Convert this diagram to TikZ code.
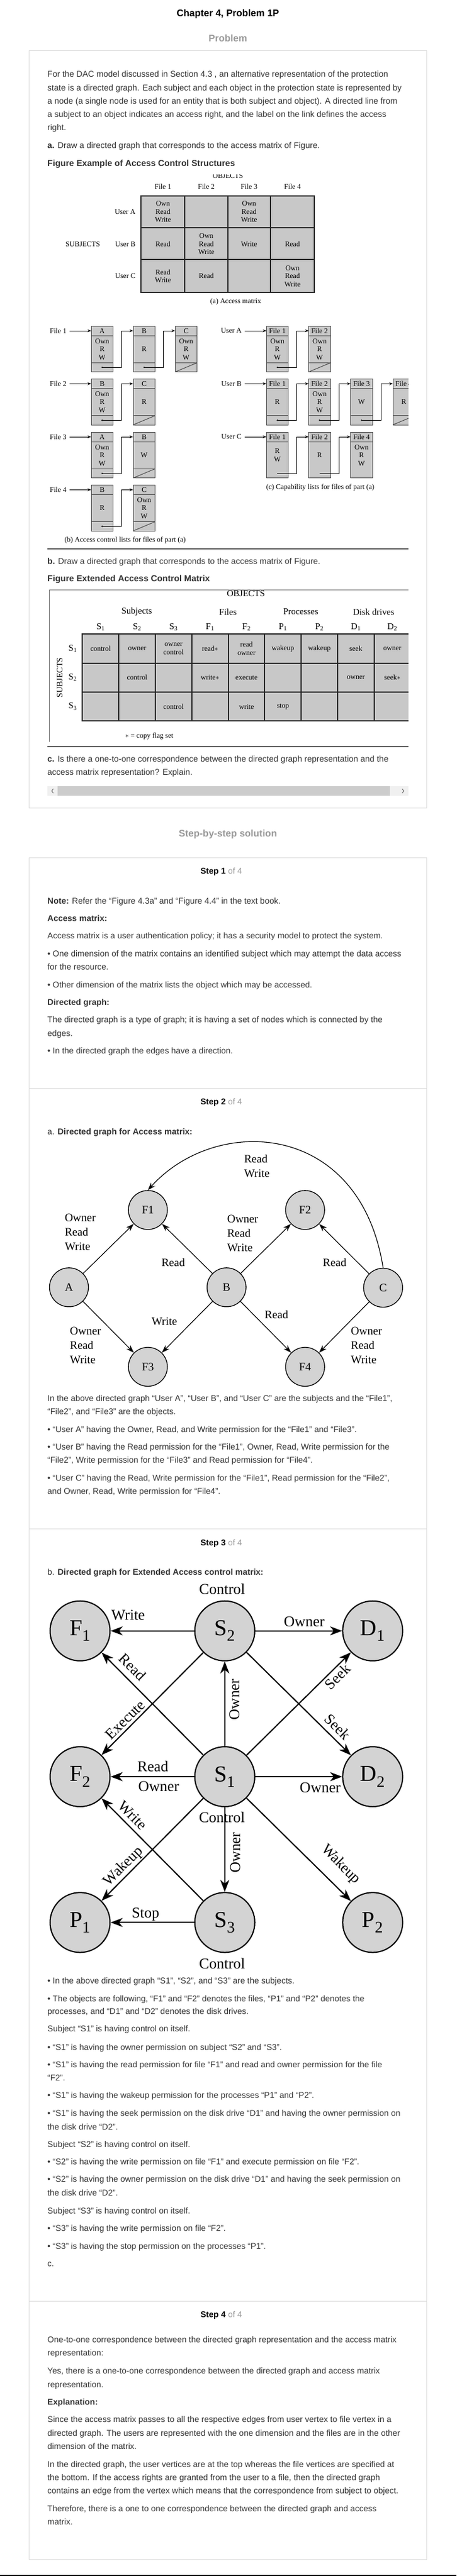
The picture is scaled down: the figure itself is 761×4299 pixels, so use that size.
\documentclass[tikz,border=0pt]{standalone}
\usepackage{fontspec}
\setmainfont{Liberation Sans}
\newfontfamily\figfont{Liberation Serif}
\usetikzlibrary{arrows.meta}
\definecolor{txtcol}{HTML}{333333}
\definecolor{headgray}{HTML}{9A9A9A}
\definecolor{framegray}{HTML}{DDDDDD}
\definecolor{cellgray}{HTML}{C8C8C8}
\definecolor{nodegray}{HTML}{D3D3D3}
% one line of body text, placed by its baseline
\newcommand{\tline}[3]{\node[txt] (#1) at (79,#2) {#3};}
\newcommand{\stephead}[3]{\node[ctxt,font=\fontsize{14}{17}\selectfont] (#1) at (369,#2) {\textbf{Step #3} \textcolor{headgray}{of 4}};}
% list cell: [pointer line] name, left, top, header, body
\newcommand{\listbox}[6][1]{
	\fill[cellgray] (#3,#4) rectangle ++(36.5,76.7);
	\draw[boxline] (#3,#4) rectangle ++(36.5,76.7);
	\draw[boxline] (#3,#4+16) -- ++(36.5,0);
	\ifnum#1=1 \draw[boxline] (#3,#4+61.4) -- ++(36.5,0);\fi
	\node[fig] (#2) at (#3+18.25,#4+8.3) {#5};
	\node[fig,align=center] (#2b) at (#3+18.25,#4+38.7) {#6};
	\coordinate (#2in) at (#3,#4+8);
	\coordinate (#2out) at (#3+18.25,#4+69);
}
\newcommand{\nextptr}[2]{
	\fill (#1out) circle (1.2pt);
	\draw[ptr] (#1out) -- ++(32.25,0) |- (#2in);
}
\newcommand{\nilptr}[2]{\draw[boxline] (#1,#2+76.7) -- (#1+36.5,#2+61.4);}

\begin{document}
\begin{tikzpicture}[x=1pt,y=-1pt,
	txt/.style={anchor=base west,inner sep=0pt,text=txtcol,font=\fontsize{14}{22}\selectfont},
	ctxt/.style={anchor=base,inner sep=0pt},
	boxline/.style={draw=black!70,line width=1pt},
	ptr/.style={line width=0.9pt,-{Stealth[length=6pt,width=4.5pt]}},
	fig/.style={font=\figfont\fontsize{12}{13.5}\selectfont,inner sep=1pt},
	figs/.style={font=\figfont\fontsize{12}{14}\selectfont,inner sep=1pt,align=center},
	figl/.style={font=\figfont\fontsize{15}{15}\selectfont,inner sep=1pt},
	grid/.style={line width=2pt,black!85},
	gnode/.style={circle,draw,line width=1.3pt,fill=nodegray,minimum size=65pt,inner sep=0pt,font=\figfont\fontsize{19}{19}\selectfont},
	gedge/.style={line width=1.2pt,-{Stealth[length=13pt,width=9pt]}},
	glab/.style={font=\figfont\fontsize{19}{24}\selectfont,align=left,inner sep=0pt},
	bnode/.style={circle,draw,line width=2pt,fill=nodegray,minimum size=100pt,inner sep=0pt,font=\figfont\fontsize{38}{38}\selectfont},
	bedge/.style={line width=2pt,-{Stealth[length=20pt,width=15pt,inset=6pt]}},
	blab/.style={font=\figfont\fontsize{25}{25}\selectfont,inner sep=0pt}]

	\useasboundingbox (0,0) rectangle (761,4299);
	\fill[white] (0,0) rectangle (761,4299);
	\fill[black] (0,4297) rectangle (761,4299);

	% headings and frames
	\node[ctxt,font=\bfseries\fontsize{16}{19}\selectfont] (title) at (380,27.5) {Chapter 4, Problem 1P};
	\node[ctxt,text=headgray,font=\bfseries\fontsize{16}{19}\selectfont] (probhead) at (380,69) {Problem};
	\node[ctxt,text=headgray,font=\bfseries\fontsize{16}{19}\selectfont] (solhead) at (380,1396) {Step-by-step solution};
	\draw[framegray,line width=1pt] (48.5,84.3) rectangle (711.5,1348.3);
	\draw[framegray,line width=1pt] (48.5,1431.7) rectangle (711.5,4271);
	\foreach \y in {1816,2551,3840.7}
		\draw[framegray,line width=1pt] (48.5,\y) -- (711.5,\y);

	% problem
	\tline{pr1}{128.3}{For the DAC model discussed in Section 4.3 , an alternative representation of the protection}
	\tline{pr2}{151}{state is a directed graph. Each subject and each object in the protection state is represented by}
	\tline{pr3}{173.3}{a node (a single node is used for an entity that is both subject and object). A directed line from}
	\tline{pr4}{195.3}{a subject to an object indicates an access right, and the label on the link defines the access}
	\tline{pr5}{217.7}{right.}
	\tline{pra}{247.3}{\textbf{a.} Draw a directed graph that corresponds to the access matrix of Figure.}
	\node[txt,font=\bfseries\fontsize{14.5}{22}\selectfont] (prfa) at (79,277.3) {Figure Example of Access Control Structures};

	\begin{scope}
	\clip (79,291) rectangle (681,916);
	% (a) access matrix
	\node[fig] (objects) at (380,294) {OBJECTS};
	\foreach \c [count=\i] in {271.7,344,415.3,487.7}
		\node[fig] (fh\i) at (\c,311.7) {File \i};
	\fill[cellgray] (235,326.7) rectangle (524.3,488.3);
	\foreach \xx in {308.3,379.6,451}
		\draw[grid] (\xx,326.7) -- (\xx,488.3);
	\foreach \yy in {380,433.3}
		\draw[grid] (235,\yy) -- (524.3,\yy);
	\draw[grid] (235,326.7) rectangle (524.3,488.3);
	\node[fig,anchor=east] (ua) at (227,353.3) {User A};
	\node[fig,anchor=east] (ub) at (227,407.7) {User B};
	\node[fig,anchor=east] (uc) at (227,460.8) {User C};
	\node[fig] (subjects) at (138,407.7) {SUBJECTS};
	\node[fig,align=center] (m11) at (271.7,353.3) {Own\\Read\\Write};
	\node[fig,align=center] (m13) at (415.3,353.3) {Own\\Read\\Write};
	\node[fig] (m21) at (271.7,407.7) {Read};
	\node[fig,align=center] (m22) at (344,407.3) {Own\\Read\\Write};
	\node[fig] (m23) at (415.3,407.7) {Write};
	\node[fig] (m24) at (487.7,407.7) {Read};
	\node[fig,align=center] (m31) at (271.7,460.8) {Read\\Write};
	\node[fig] (m32) at (344,460.8) {Read};
	\node[fig,align=center] (m34) at (487.7,461) {Own\\Read\\Write};
	\node[fig] (capa) at (393,503.3) {(a) Access matrix};

	% (b) access control lists
	\listbox{a11}{152}{544}{A}{Own\\R\\W}
	\listbox{a12}{222}{544}{B}{R}
	\listbox{a13}{292}{544}{C}{Own\\R\\W}
	\nextptr{a11}{a12} \nextptr{a12}{a13} \nilptr{292}{544}
	\listbox{a21}{152}{632.3}{B}{Own\\R\\W}
	\listbox{a22}{222}{632.3}{C}{R}
	\nextptr{a21}{a22} \nilptr{222}{632.3}
	\listbox{a31}{152}{721}{A}{Own\\R\\W}
	\listbox{a32}{222}{721}{B}{W}
	\nextptr{a31}{a32} \nilptr{222}{721}
	\listbox{a41}{152}{809.3}{B}{R}
	\listbox{a42}{222}{809.3}{C}{Own\\R\\W}
	\nextptr{a41}{a42} \nilptr{222}{809.3}
	\foreach \n/\y in {1/552,2/640.3,3/729,4/817.3}
		\node[fig,anchor=east] (lf\n) at (112,\y) {File \n};
	\draw[ptr] ([xshift=4pt]lf1.east) -- (a11in);
	\draw[ptr] ([xshift=4pt]lf2.east) -- (a21in);
	\draw[ptr] ([xshift=4pt]lf3.east) -- (a31in);
	\draw[ptr] ([xshift=4pt]lf4.east) -- (a41in);
	\node[fig] (capb) at (208.7,901.7) {(b) Access control lists for files of part (a)};

	% (c) capability lists
	\listbox{c11}{444.2}{544}{File 1}{Own\\R\\W}
	\listbox{c12}{514.6}{544}{File 2}{Own\\R\\W}
	\nextptr{c11}{c12} \nilptr{514.6}{544}
	\listbox{c21}{444.2}{632.3}{File 1}{R}
	\listbox{c22}{514.6}{632.3}{File 2}{Own\\R\\W}
	\listbox{c23}{584.6}{632.3}{File 3}{W}
	\listbox{c24}{655}{632.3}{File 4}{R}
	\nextptr{c21}{c22} \nextptr{c22}{c23} \nextptr{c23}{c24} \nilptr{655}{632.3}
	\listbox[0]{c31}{444.2}{721}{File 1}{R\\W}
	\listbox[0]{c32}{514.6}{721}{File 2}{R}
	\listbox[0]{c33}{584.6}{721}{File 4}{Own\\R\\W}
	\draw[ptr] (c31out) -- ++(32.25,0) |- (c32in);
	\draw[ptr] (c32out) -- ++(32.25,0) |- (c33in);
	\foreach \n/\y in {A/552,B/640.3,C/729}
		\node[fig,anchor=east] (lu\n) at (404,\y) {User \n};
	\draw[ptr] ([xshift=4pt]luA.east) -- (c11in);
	\draw[ptr] ([xshift=4pt]luB.east) -- (c21in);
	\draw[ptr] ([xshift=4pt]luC.east) -- (c31in);
	\node[fig] (capc) at (534,814) {(c) Capability lists for files of part (a)};
	\end{scope}
	\draw[black!65,line width=2pt] (79,916) -- (681,916);

	\tline{prb}{941.7}{\textbf{b.} Draw a directed graph that corresponds to the access matrix of Figure.}
	\node[txt,font=\bfseries\fontsize{14.5}{22}\selectfont] (prfb) at (79,970.7) {Figure Extended Access Control Matrix};

	% extended access control matrix
	\begin{scope}
	\clip (79,984) rectangle (681,1246);
	\draw[black!55,line width=0.8pt] (681,984) -- (82.5,984) -- (82.5,1238.3);
	\node[figl] (xobj) at (410,990.5) {OBJECTS};
	\node[figl] (gsub) at (228,1021) {Subjects};
	\node[figl] (gfil) at (380,1021) {Files};
	\node[figl] (gpro) at (501.5,1021) {Processes};
	\node[figl] (gdsk) at (623,1021) {Disk drives};
	\foreach \lab [count=\i] in {S\textsubscript{1},S\textsubscript{2},S\textsubscript{3},F\textsubscript{1},F\textsubscript{2},P\textsubscript{1},P\textsubscript{2},D\textsubscript{1},D\textsubscript{2}}
		\node[figl] (col\i) at ({137.4+60.8*(\i-0.5)},1046.7) {\lab};
	\foreach \lab [count=\j] in {S\textsubscript{1},S\textsubscript{2},S\textsubscript{3}}
		\node[figl] (row\j) at (121.4,{1058.3+48.33*(\j-0.5)}) {\lab};
	\node[figl,rotate=90,font=\figfont\fontsize{14}{14}\selectfont] (xsubj) at (99.5,1131) {SUBJECTS};
	\fill[cellgray] (137.4,1058.3) rectangle (684.6,1203.3);
	\foreach \i in {0,...,9}
		\draw[grid] ({137.4+60.8*\i},1058.3) -- ({137.4+60.8*\i},1203.3);
	\foreach \j in {0,...,3}
		\draw[grid] (136.4,{1058.3+48.33*\j}) -- (684.6,{1058.3+48.33*\j});
	\foreach \c/\r/\t in {1/1/control,2/1/owner,3/1/{owner\\control},4/1/{read$\ast$},5/1/{read\\owner},6/1/wakeup,7/1/wakeup,8/1/seek,9/1/owner,
		2/2/control,4/2/{write$\ast$},5/2/execute,8/2/owner,9/2/{seek$\ast$},
		3/3/control,5/3/write,6/3/stop}
		\node[figs] (e\c\r) at ({137.4+60.8*(\c-0.5)},{1058.3+48.33*(\r-0.5)}) {\t};
	\node[fig] (flag) at (249,1228.3) {$\ast$ = copy flag set};
	\end{scope}
	\draw[black!65,line width=2pt] (79,1246) -- (681,1246);

	\tline{prc1}{1271}{\textbf{c.} Is there a one-to-one correspondence between the directed graph representation and the}
	\tline{prc2}{1293.3}{access matrix representation? Explain.}
	% scroll bar
	\fill[black!6] (79,1312.3) rectangle (681,1327.7);
	\fill[black!20] (96,1312.3) rectangle (649.5,1327.7);
	\draw[black!60,line width=1pt] (88.8,1316.5) -- (86.3,1320) -- (88.8,1323.5);
	\draw[black!60,line width=1pt] (670.7,1316.5) -- (673.2,1320) -- (670.7,1323.5);

	% step 1
	\stephead{h1}{1458.3}{1}
	\tline{s1a}{1508.3}{\textbf{Note:} Refer the “Figure 4.3a” and “Figure 4.4” in the text book.}
	\tline{s1b}{1537.3}{\textbf{Access matrix:}}
	\tline{s1c}{1566}{Access matrix is a user authentication policy; it has a security model to protect the system.}
	\tline{s1d}{1596.7}{• One dimension of the matrix contains an identified subject which may attempt the data access}
	\tline{s1e}{1618.3}{for the resource.}
	\tline{s1f}{1648.3}{• Other dimension of the matrix lists the object which may be accessed.}
	\tline{s1g}{1677.3}{\textbf{Directed graph:}}
	\tline{s1h}{1706}{The directed graph is a type of graph; it is having a set of nodes which is connected by the}
	\tline{s1i}{1729}{edges.}
	\tline{s1j}{1758.3}{• In the directed graph the edges have a direction.}

	% step 2
	\stephead{h2}{1843.3}{2}
	\tline{s2a}{1893.3}{a. \textbf{Directed graph for Access matrix:}}
	\node[gnode] (A) at (115,2148.3) {A};
	\node[gnode] (B) at (377.7,2148.3) {B};
	\node[gnode] (C) at (638.8,2149) {C};
	\node[gnode] (F1) at (246.6,2019.3) {F1};
	\node[gnode] (F2) at (508.7,2019.3) {F2};
	\node[gnode] (F3) at (246.6,2281) {F3};
	\node[gnode] (F4) at (508.7,2281) {F4};
	\draw[gedge] (A) -- (F1);
	\draw[gedge] (A) -- (F3);
	\draw[gedge] (B) -- (F1);
	\draw[gedge] (B) -- (F2);
	\draw[gedge] (B) -- (F3);
	\draw[gedge] (B) -- (F4);
	\draw[gedge] (C) -- (F2);
	\draw[gedge] (C) -- (F4);
	\draw[gedge] (C.north) .. controls (600,1870) and (360,1860) .. (F1.north);
	\node[glab,anchor=west] (lAF1) at (107.8,2056) {Owner\\Read\\Write};
	\node[glab,anchor=west] (lBF2) at (378.6,2058.5) {Owner\\Read\\Write};
	\node[glab,anchor=west] (lAF3) at (116.5,2245.5) {Owner\\Read\\Write};
	\node[glab,anchor=west] (lCF4) at (585,2245) {Owner\\Read\\Write};
	\node[glab,anchor=west] (lCF1) at (406.8,1946.3) {Read\\Write};
	\node[glab] (lBF1) at (288.8,2106.7) {Read};
	\node[glab] (lCF2) at (558,2106.7) {Read};
	\node[glab] (lBF3) at (274,2205) {Write};
	\node[glab] (lBF4) at (461,2194) {Read};
	\tline{s2b}{2338.3}{In the above directed graph “User A”, “User B”, and “User C” are the subjects and the “File1”,}
	\tline{s2c}{2360}{“File2”, and “File3” are the objects.}
	\tline{s2d}{2390}{• “User A” having the Owner, Read, and Write permission for the “File1” and “File3”.}
	\tline{s2e}{2419.3}{• “User B” having the Read permission for the “File1”, Owner, Read, Write permission for the}
	\tline{s2f}{2441.7}{“File2”, Write permission for the “File3” and Read permission for “File4”.}
	\tline{s2g}{2471}{• “User C” having the Read, Write permission for the “File1”, Read permission for the “File2”,}
	\tline{s2h}{2493.3}{and Owner, Read, Write permission for “File4”.}

	% step 3
	\stephead{h3}{2579}{3}
	\tline{s3a}{2628.3}{b. \textbf{Directed graph for Extended Access control matrix:}}
	\node[bnode] (bF1) at (133.5,2721.7) {F\textsubscript{1}};
	\node[bnode] (bS2) at (374.8,2721.7) {S\textsubscript{2}};
	\node[bnode] (bD1) at (621.4,2721.7) {D\textsubscript{1}};
	\node[bnode] (bF2) at (133.5,2965) {F\textsubscript{2}};
	\node[bnode] (bS1) at (374.8,2965) {S\textsubscript{1}};
	\node[bnode] (bD2) at (621.4,2965) {D\textsubscript{2}};
	\node[bnode] (bP1) at (133.5,3208.3) {P\textsubscript{1}};
	\node[bnode] (bS3) at (374.8,3208.3) {S\textsubscript{3}};
	\node[bnode] (bP2) at (621.4,3208.3) {P\textsubscript{2}};
	\draw[bedge] (bS2) -- (bF1);
	\draw[bedge] (bS2) -- (bD1);
	\draw[bedge] (bS2) -- (bF2);
	\draw[bedge] (bS2) -- (bD2);
	\draw[bedge] (bS1) -- (bF1);
	\draw[bedge] (bS1) -- (bS2);
	\draw[bedge] (bS1) -- (bD1);
	\draw[bedge] (bS1) -- (bF2);
	\draw[bedge] (bS1) -- (bD2);
	\draw[bedge] (bS1) -- (bS3);
	\draw[bedge] (bS1) -- (bP1);
	\draw[bedge] (bS1) -- (bP2);
	\draw[bedge] (bS3) -- (bF2);
	\draw[bedge] (bS3) -- (bP1);
	\node[blab] (kS2) at (370.4,2651.7) {Control};
	\node[blab] (kS2F1) at (213.6,2695) {Write};
	\node[blab] (kS2D1) at (507.3,2706.7) {Owner};
	\node[blab,rotate=-45] (kS1F1) at (221,2781.7) {Read};
	\node[blab,rotate=90] (kS1S2) at (390.8,2836) {Owner};
	\node[blab,rotate=45] (kS1D1) at (563,2798) {Seek};
	\node[blab,rotate=45] (kS2F2) at (208.7,2870) {Execute};
	\node[blab,rotate=-45] (kS2D2) at (563,2881.7) {Seek};
	\node[blab] (kS1F2a) at (254.9,2948.3) {Read};
	\node[blab] (kS1F2b) at (264.6,2981.7) {Owner};
	\node[blab] (kS1D2) at (534,2983.3) {Owner};
	\node[blab] (kS1) at (370,3033.3) {Control};
	\node[blab,rotate=-45] (kS3F2) at (220.9,3030) {Write};
	\node[blab,rotate=90] (kS1S3) at (392.2,3091.7) {Owner};
	\node[blab,rotate=45] (kS1P1) at (206.3,3115) {Wakeup};
	\node[blab,rotate=-45] (kS1P2) at (568,3111.7) {Wakeup};
	\node[blab] (kS3P1) at (242.7,3195) {Stop};
	\node[blab] (kS3) at (370.4,3277.3) {Control};
	\tline{s3b}{3310}{• In the above directed graph “S1”, “S2”, and “S3” are the subjects.}
	\tline{s3c}{3340}{• The objects are following, “F1” and “F2” denotes the files, “P1” and “P2” denotes the}
	\tline{s3d}{3361.7}{processes, and “D1” and “D2” denotes the disk drives.}
	\tline{s3e}{3390.7}{Subject “S1” is having control on itself.}
	\tline{s3f}{3421}{• “S1” is having the owner permission on subject “S2” and “S3”.}
	\tline{s3g}{3450}{• “S1” is having the read permission for file “F1” and read and owner permission for the file}
	\tline{s3h}{3472.3}{“F2”.}
	\tline{s3i}{3501.7}{• “S1” is having the wakeup permission for the processes “P1” and “P2”.}
	\tline{s3j}{3531}{• “S1” is having the seek permission on the disk drive “D1” and having the owner permission on}
	\tline{s3k}{3554}{the disk drive “D2”.}
	\tline{s3l}{3583.3}{Subject “S2” is having control on itself.}
	\tline{s3m}{3612.7}{• “S2” is having the write permission on file “F1” and execute permission on file “F2”.}
	\tline{s3n}{3641.7}{• “S2” is having the owner permission on the disk drive “D1” and having the seek permission on}
	\tline{s3o}{3664.3}{the disk drive “D2”.}
	\tline{s3p}{3694.3}{Subject “S3” is having control on itself.}
	\tline{s3q}{3723.3}{• “S3” is having the write permission on file “F2”.}
	\tline{s3r}{3753.3}{• “S3” is having the stop permission on the processes “P1”.}
	\tline{s3s}{3782.7}{c.}

	% step 4
	\stephead{h4}{3867.3}{4}
	\tline{s4a}{3909.3}{One-to-one correspondence between the directed graph representation and the access matrix}
	\tline{s4b}{3931.7}{representation:}
	\tline{s4c}{3961}{Yes, there is a one-to-one correspondence between the directed graph and access matrix}
	\tline{s4d}{3984}{representation.}
	\tline{s4e}{4013.3}{\textbf{Explanation:}}
	\tline{s4f}{4042.7}{Since the access matrix passes to all the respective edges from user vertex to file vertex in a}
	\tline{s4g}{4065}{directed graph. The users are represented with the one dimension and the files are in the other}
	\tline{s4h}{4087.3}{dimension of the matrix.}
	\tline{s4i}{4117.3}{In the directed graph, the user vertices are at the top whereas the file vertices are specified at}
	\tline{s4j}{4139.3}{the bottom. If the access rights are granted from the user to a file, then the directed graph}
	\tline{s4k}{4161}{contains an edge from the vertex which means that the correspondence from subject to object.}
	\tline{s4l}{4191.7}{Therefore, there is a one to one correspondence between the directed graph and access}
	\tline{s4m}{4213.3}{matrix.}
\end{tikzpicture}
\end{document}
